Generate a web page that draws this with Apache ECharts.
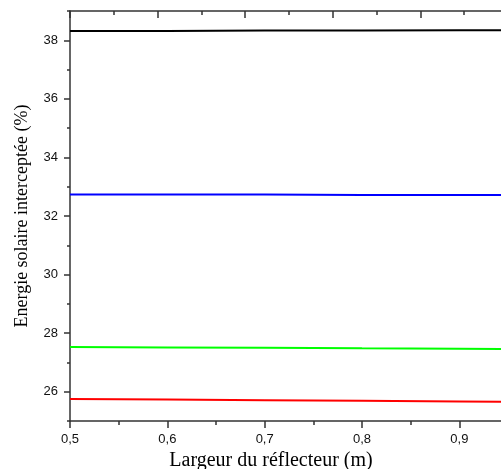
<!DOCTYPE html>
<html>
<head>
<meta charset="utf-8">
<script src="https://cdn.jsdelivr.net/npm/echarts@6/dist/echarts.min.js"></script>
<style>
  html, body { margin: 0; padding: 0; background: #fff; }
  #main { width: 501px; height: 469px; }
</style>
</head>
<body>
<div id="main"></div>
<script>
// largeur du réflecteur (m)
var largeur = [0.5, 0.6, 0.7, 0.8, 0.9, 0.95];
// énergie interceptée (%) pour chaque courbe
var courbeNoire = [38.32, 38.32, 38.33, 38.33, 38.34, 38.34];
var courbeBleue = [32.73, 32.73, 32.73, 32.72, 32.72, 32.72];
var courbeVerte = [27.53, 27.51, 27.50, 27.48, 27.47, 27.46];
var courbeRouge = [25.75, 25.73, 25.71, 25.69, 25.67, 25.66];

var yMajeurs = [26, 28, 30, 32, 34, 36, 38];
var yMineurs = [25, 27, 29, 31, 33, 35, 37, 39];

function paires (ys) {
  return largeur.map(function (x, i) { return [x, ys[i]]; });
}

var axeCouleur = '#333';
var police = 'Liberation Sans, Arial, sans-serif';
var policeTitre = 'Liberation Serif, Times New Roman, serif';

function serie (ys, couleur) {
  return {
    type: 'line',
    data: paires(ys),
    xAxisIndex: 0,
    yAxisIndex: 0,
    showSymbol: false,
    symbol: 'none',
    silent: true,
    lineStyle: { color: couleur, width: 2 }
  };
}

var option = {
  animation: false,
  grid: { left: 70, right: -7, top: 11, bottom: 48, outerBoundsMode: 'none', containLabel: false },
  xAxis: [
    {
      type: 'value',
      position: 'bottom',
      min: 0.5,
      max: 0.95,
      interval: 0.1,
      name: 'Largeur du réflecteur (m)',
      nameLocation: 'middle',
      nameGap: 25,
      nameTextStyle: { fontFamily: policeTitre, fontSize: 20, color: '#000', padding: [0, 36, 0, 0] },
      axisLine: { show: true, lineStyle: { color: axeCouleur, width: 1.5 } },
      axisTick: { show: true, inside: false, length: 7, lineStyle: { color: axeCouleur, width: 1.5 } },
      minorTick: { show: true, splitNumber: 2, length: 4, lineStyle: { color: axeCouleur, width: 1.5 } },
      splitLine: { show: false },
      axisLabel: {
        margin: 12,
        fontFamily: police,
        fontSize: 13,
        color: '#111',
        showMaxLabel: false,
        formatter: function (v) { return v.toFixed(1).replace('.', ','); }
      }
    },
    {
      type: 'value',
      position: 'top',
      min: 0,
      max: 5,
      interval: 1,
      axisLine: { show: true, onZero: false, lineStyle: { color: axeCouleur, width: 1.5 } },
      axisTick: { show: true, inside: true, length: 7, lineStyle: { color: axeCouleur, width: 1.5 } },
      minorTick: { show: true, splitNumber: 2, length: 4, lineStyle: { color: axeCouleur, width: 1.5 } },
      splitLine: { show: false },
      axisLabel: { show: false }
    }
  ],
  yAxis: [
    {
      type: 'value',
      position: 'left',
      min: 25,
      max: 39,
      name: 'Energie solaire interceptée (%)',
      nameLocation: 'middle',
      nameGap: 39,
      nameTextStyle: { fontFamily: policeTitre, fontSize: 18, color: '#000' },
      axisLine: { show: true, lineStyle: { color: axeCouleur, width: 1.5 } },
      axisTick: { show: true, inside: false, length: 6, customValues: yMajeurs, lineStyle: { color: axeCouleur, width: 1.5 } },
      splitLine: { show: false },
      axisLabel: {
        margin: 12,
        fontFamily: police,
        fontSize: 13,
        color: '#111',
        customValues: yMajeurs
      }
    },
    {
      type: 'value',
      position: 'left',
      min: 25,
      max: 39,
      axisLine: { show: false },
      axisTick: { show: true, inside: false, length: 3, customValues: yMineurs, lineStyle: { color: axeCouleur, width: 1.5 } },
      splitLine: { show: false },
      axisLabel: { show: false }
    }
  ],
  series: [
    serie(courbeNoire, '#000000'),
    serie(courbeBleue, '#0000ff'),
    serie(courbeVerte, '#00ff00'),
    serie(courbeRouge, '#ff0000')
  ]
};

var chart = echarts.init(document.getElementById('main'));
chart.setOption(option);
</script>
</body>
</html>
